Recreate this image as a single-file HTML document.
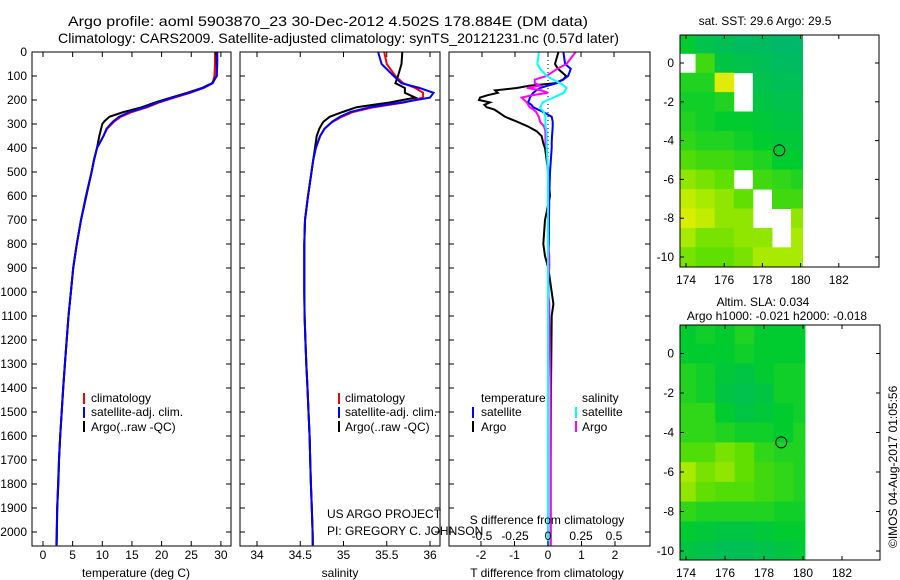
<!DOCTYPE html>
<html><head><meta charset="utf-8"><style>
html,body{margin:0;padding:0;background:#fff;}
svg{display:block;font-family:"Liberation Sans",sans-serif;}
text{fill:#000;}
</style></head><body>
<svg id="fig" width="900" height="580" viewBox="0 0 900 580" xmlns="http://www.w3.org/2000/svg">
<text x="68" y="26" font-size="14" textLength="520" lengthAdjust="spacingAndGlyphs">Argo profile: aoml 5903870_23 30-Dec-2012 4.502S 178.884E (DM data)</text>
<text x="58" y="43" font-size="14" textLength="561" lengthAdjust="spacingAndGlyphs">Climatology: CARS2009. Satellite-adjusted climatology: synTS_20121231.nc (0.57d later)</text>
<text x="765" y="25" font-size="12" text-anchor="middle">sat. SST: 29.6  Argo: 29.5</text>
<text x="763" y="306" font-size="12" text-anchor="middle">Altim. SLA: 0.034</text>
<text x="777" y="320" font-size="12" text-anchor="middle">Argo h1000: -0.021 h2000: -0.018</text>
<text transform="translate(897,548) rotate(-90)" font-size="12">©IMOS 04-Aug-2017 01:05:56</text>
<g id="plots"></g>
<rect x="32" y="52" width="199" height="494" fill="none" stroke="#000"/>
<rect x="240" y="52" width="200" height="494" fill="none" stroke="#000"/>
<rect x="449" y="52" width="201" height="494" fill="none" stroke="#000"/>
<text x="136" y="577" font-size="12" text-anchor="middle">temperature (deg C)</text>
<text x="340" y="577" font-size="12" text-anchor="middle">salinity</text>
<text x="547" y="577" font-size="12" text-anchor="middle">T difference from climatology</text>
<text x="547" y="524" font-size="12" text-anchor="middle">S difference from climatology</text>
<g font-size="12">
<rect x="83" y="393" width="2" height="11" fill="#f00"/><text x="91" y="402">climatology</text>
<rect x="83" y="407" width="2" height="11" fill="#00f"/><text x="91" y="416">satellite-adj. clim.</text>
<rect x="83" y="421" width="2" height="11" fill="#000"/><text x="91" y="431">Argo(..raw -QC)</text>
</g>
<g font-size="12">
<rect x="338" y="393" width="2" height="11" fill="#f00"/><text x="345" y="402">climatology</text>
<rect x="338" y="407" width="2" height="11" fill="#00f"/><text x="345" y="416">satellite-adj. clim.</text>
<rect x="338" y="421" width="2" height="11" fill="#000"/><text x="345" y="431">Argo(..raw -QC)</text>
</g>
<g font-size="12">
<text x="481" y="402">temperature</text>
<text x="582" y="402">salinity</text>
<rect x="472" y="407" width="2" height="11" fill="#00f"/><text x="481" y="416">satellite</text>
<rect x="472" y="421" width="2" height="11" fill="#000"/><text x="481" y="431">Argo</text>
<rect x="575" y="407" width="2" height="11" fill="#0ff"/><text x="582" y="416">satellite</text>
<rect x="575" y="421" width="2" height="11" fill="#f0f"/><text x="582" y="431">Argo</text>
</g>
<text x="327" y="518" font-size="12">US ARGO PROJECT</text>
<text x="327" y="535" font-size="12">PI: GREGORY C. JOHNSON</text>
</svg>
<script>
const pres = [0,50,100,130,150,170,190,210,230,250,270,290,300,320,350,400,450,500,600,700,800,900,1000,1100,1200,1300,1400,1500,1600,1700,1800,1900,2000,2055];
const tempSat = [29.4,29.4,29.3,28.6,27.0,24.6,21.9,19.3,17.3,14.6,12.8,11.8,11.4,10.7,10.2,9.1,8.6,8.2,7.25,6.4,5.7,5.1,4.7,4.3,4.0,3.7,3.4,3.15,2.9,2.7,2.55,2.4,2.35,2.3];
const tempClim = [29.0,29.0,28.9,28.6,27.1,24.8,22.2,19.6,17.6,15.0,13.1,12.0,11.6,10.8,10.2,9.1,8.6,8.2,7.25,6.4,5.7,5.1,4.7,4.3,4.0,3.7,3.4,3.15,2.9,2.7,2.55,2.4,2.3,2.25];
const tempArgo = [29.2,29.3,29.3,28.5,26.8,24.3,21.6,18.9,16.7,13.6,11.2,10.3,10.0,9.8,9.5,9.1,8.6,8.2,7.3,6.4,5.7,5.1,4.7,4.3,4.0,3.7,3.4,3.15,2.9,2.7,2.6,2.4,2.35,2.3];
const salSat = [35.40,35.44,35.58,35.67,35.88,36.04,36.00,35.68,35.31,35.08,34.96,34.87,34.84,34.78,34.73,34.68,34.65,34.63,34.59,34.555,34.547,34.547,34.547,34.55,34.56,34.57,34.584,34.595,34.608,34.615,34.623,34.633,34.643,34.645];
const salClim = [35.47,35.50,35.60,35.69,35.83,35.92,35.92,35.71,35.35,35.11,34.98,34.88,34.84,34.78,34.73,34.68,34.65,34.63,34.59,34.555,34.547,34.547,34.547,34.55,34.56,34.57,34.584,34.595,34.608,34.615,34.623,34.633,34.643,34.645];
const salArgo = [35.68,35.67,35.63,35.60,35.71,35.71,35.83,35.54,35.15,34.99,34.84,34.77,34.75,34.72,34.69,34.67,34.65,34.63,34.59,34.555,34.547,34.547,34.547,34.55,34.56,34.57,34.584,34.595,34.608,34.615,34.623,34.633,34.643,34.645];
const diffPres = [0,50,70,100,115,130,140,150,160,170,180,190,200,210,220,230,240,250,270,290,310,330,350,380,400,500,600,700,800,850,900,950,1000,1050,1100,1400,1700,2000,2055];
const dTargo = [0.31,0.21,0.30,0.54,0.45,0.21,-0.54,-0.93,-1.58,-1.5,-1.8,-2.03,-2.06,-1.73,-1.9,-1.83,-1.6,-1.49,-1.28,-0.93,-0.6,-0.34,-0.19,-0.14,-0.09,0.01,0.06,-0.09,-0.14,-0.09,0.01,0.06,0.11,0.16,0.11,0.09,0.08,0.08,0.08];
const dTsat = [0.46,0.51,0.68,0.6,0.45,0.26,0.0,-0.24,-0.35,-0.44,-0.5,-0.54,-0.56,-0.6,-0.5,-0.44,-0.3,-0.14,0.11,0.14,0.14,0.13,0.12,0.11,0.11,0.06,0.04,0.03,0.02,0.02,0.01,0.01,0.01,0.01,0.0,0.0,0.0,0.0,0.0];
const dSargo = [0.21,0.14,0.07,-0.01,-0.10,-0.10,-0.06,-0.16,-0.05,0.0,-0.12,-0.2,-0.18,-0.16,-0.15,-0.14,-0.11,-0.09,-0.07,-0.06,-0.03,-0.02,-0.02,-0.02,-0.01,0.0,0.0,0.0,0.0,0.01,0.01,0.0,0.0,0.01,0.01,0.02,0.02,0.02,0.02];
const dSsat = [-0.07,-0.08,-0.06,-0.01,0.04,0.09,0.12,0.14,0.13,0.12,0.08,0.04,0.0,-0.04,-0.05,-0.06,-0.05,-0.03,-0.02,-0.02,-0.02,-0.01,-0.01,-0.01,-0.01,0.0,0.0,0.0,0.0,0.0,0.0,0.0,0.0,0.0,0.0,0.0,0.0,0.0,0.0];
const depthTicks = [0,100,200,300,400,500,600,700,800,900,1000,1100,1200,1300,1400,1500,1600,1700,1800,1900,2000];
const tempTicks = [0,5,10,15,20,25,30];
const salTicks = [34,34.5,35,35.5,36];
const salTickLabels = ["34","34.5","35","35.5","36"];
const dTTicks = [-2,-1,0,1,2];
const dSTicks = [-0.5,-0.25,0,0.25,0.5];
const dSTickLabels = ["-0.5","-0.25","0","0.25","0.5"];
const mapLons = [174,175,176,177,178,179,180];
const mapLats = [1,0,-1,-2,-3,-4,-5,-6,-7,-8,-9,-10];
const sstGrid = [
[0.3,0.15,0.1,0.05,0.05,0.0,0.0],
[null,0.5,0.2,0.15,0.1,0.05,0.05],
[0.4,0.4,0.9,null,0.15,0.1,0.1],
[0.35,0.35,0.4,null,0.2,0.15,0.15],
[0.4,0.35,0.3,0.3,0.25,0.2,0.2],
[0.45,0.4,0.4,0.35,0.3,0.25,0.25],
[0.55,0.5,0.5,0.45,0.4,0.3,0.3],
[0.7,0.65,0.6,null,0.5,0.45,0.4],
[0.8,0.75,0.7,0.6,null,0.5,0.5],
[0.85,0.8,0.7,0.7,null,null,0.7],
[0.75,0.65,0.65,0.7,0.7,null,0.75],
[0.65,0.6,0.6,0.65,0.75,0.75,0.75]];
const slaGrid = [
[0.3,0.35,0.3,0.4,0.3,0.3,0.3],
[0.3,0.3,0.3,0.35,0.3,0.3,0.3],
[0.4,0.35,0.25,0.2,0.3,0.35,0.35],
[0.4,0.35,0.2,0.15,0.2,0.35,0.35],
[0.45,0.45,0.3,0.2,0.25,0.3,0.35],
[0.45,0.45,0.4,0.35,0.35,0.3,0.4],
[0.55,0.55,0.65,0.6,0.45,0.4,0.4],
[0.75,0.65,0.7,0.6,0.5,0.45,0.4],
[0.7,0.6,0.55,0.55,0.5,0.45,0.4],
[0.45,0.4,0.4,0.4,0.4,0.35,0.35],
[0.3,0.25,0.2,0.2,0.25,0.3,0.3],
[0.2,0.15,0.1,0.1,0.15,0.2,0.25]];
const floatLon = [178.884];
const floatLat = [-4.502];
const mapLonTicks = [174,176,178,180,182];
const mapLatTicks = [0,-2,-4,-6,-8,-10];

const NS = "http://www.w3.org/2000/svg";
const G = document.getElementById("plots");
function mk(tag, attrs) { const e = document.createElementNS(NS, tag); for (const k in attrs) e.setAttribute(k, attrs[k]); G.appendChild(e); return e; }
const yP = p => 52 + p * 0.24;
const xT = t => 43 + t * 5.93;
const xS = s => 257 + (s - 34) * 86.5;
const xDT = d => 548 + d * 33.5;
const xDS = d => 548 + d * 132;

function profile(xs, fx, color, name, presArr) {
  const pts = xs.map((v, i) => fx(v).toFixed(1) + "," + yP(presArr[i]).toFixed(1)).join(" ");
  const e = mk("polyline", {points: pts, fill: "none", stroke: color, "stroke-width": 2, "stroke-linejoin": "miter"});
  
  
}
const zl = mk("line", {x1: 548, y1: 52, x2: 548, y2: 546, stroke: "#000", "stroke-width": 1, "stroke-dasharray": "1,3"});



profile(tempClim, xT, "#f00", "temperature-climatology-line", pres);
profile(tempArgo, xT, "#000", "temperature-argo-line", pres);
profile(tempSat, xT, "#00f", "temperature-satellite-line", pres);
profile(salClim, xS, "#f00", "salinity-climatology-line", pres);
profile(salArgo, xS, "#000", "salinity-argo-line", pres);
profile(salSat, xS, "#00f", "salinity-satellite-line", pres);
profile(dTargo, xDT, "#000", "t-diff-argo-line", diffPres);
profile(dTsat, xDT, "#00f", "t-diff-satellite-line", diffPres);
profile(dSargo, xDS, "#f0f", "s-diff-argo-line", diffPres);
profile(dSsat, xDS, "#0ff", "s-diff-satellite-line", diffPres);

function label(x, y, txt, anchor, size, name) {
  const e = mk("text", {x: x, y: y, "font-size": size || 12, "text-anchor": anchor || "middle"});
  e.textContent = txt;
  
  
}
function tick(x1, y1, x2, y2, name) {
  const e = mk("line", {x1: x1, y1: y1, x2: x2, y2: y2, stroke: "#000", "stroke-width": 1});
  
  
}
const panels = [[32,231],[240,440],[449,650]];
depthTicks.forEach(p => {
  const y = yP(p);
  label(27, y + 4, String(p), "end", 12, "depth-tick-label");
  panels.forEach(([a, b]) => { tick(a, y, a + 5, y, "depth-tick"); tick(b - 5, y, b, y, "depth-tick"); });
});
tempTicks.forEach(t => { const x = xT(t); tick(x, 52, x, 57, "temp-tick"); tick(x, 541, x, 546, "temp-tick"); label(x, 559, String(t), "middle", 12, "temp-tick-label"); });
salTicks.forEach((s, i) => { const x = xS(s); tick(x, 52, x, 57, "sal-tick"); tick(x, 541, x, 546, "sal-tick"); label(x, 559, salTickLabels[i], "middle", 12, "sal-tick-label"); });
dTTicks.forEach(d => { const x = xDT(d); tick(x, 541, x, 546, "t-diff-tick"); label(x, 559, String(d), "middle", 12, "t-diff-tick-label"); });
dSTicks.forEach((d, i) => { const x = xDS(d); tick(x, 52, x, 57, "s-diff-tick"); label(x, 540, dSTickLabels[i], "middle", 12, "s-diff-tick-label"); });

function colorOf(v) {
  const stops = [[0, [0,184,104]], [0.3, [0,204,48]], [0.6, [96,224,0]], [0.85, [216,240,0]], [1, [240,224,32]]];
  for (let i = 1; i < stops.length; i++) {
    if (v <= stops[i][0]) {
      const [a, ca] = stops[i-1], [b, cb] = stops[i], f = (v - a) / (b - a);
      return "rgb(" + ca.map((c, k) => Math.round(c + (cb[k] - c) * f)).join(",") + ")";
    }
  }
  return "rgb(240,224,32)";
}
function drawMap(grid, box, lonX, latY, name) {
  const fr = mk("rect", {x: box[0], y: box[1], width: box[2] - box[0], height: box[3] - box[1], fill: "#fff"});
  
  
  const dataLeft = box[0], dataRight = lonX(180.1);
  mapLats.forEach((la, r) => {
    mapLons.forEach((lo, c) => {
      const v = grid[r][c];
      if (v === null) return;
      const x0 = Math.max(dataLeft, lonX(lo - 0.5)), x1 = Math.min(dataRight, lonX(lo + 0.5));
      const y0 = Math.max(box[1], latY(la + 0.5)), y1 = Math.min(box[3], latY(la - 0.5));
      const e = mk("rect", {x: x0, y: y0, width: x1 - x0 + 0.5, height: y1 - y0 + 0.5, fill: colorOf(v)});
      
      
    });
  });
  floatLon.forEach((lo, i) => {
    const e = mk("circle", {cx: lonX(lo), cy: latY(floatLat[i]), r: 5.5, fill: "none", stroke: "#000", "stroke-width": 1});
    
    
  });
  const b = mk("rect", {x: box[0], y: box[1], width: box[2] - box[0], height: box[3] - box[1], fill: "none", stroke: "#000"});
  
  
  mapLonTicks.forEach(lo => { const x = lonX(lo); tick(x, box[1], x, box[1] + 4, "lon-tick"); tick(x, box[3] - 4, x, box[3], "lon-tick"); label(x, box[3] + 17, String(lo), "middle", 12, "lon-tick-label"); });
  mapLatTicks.forEach(la => { const y = latY(la); tick(box[0], y, box[0] + 4, y, "lat-tick"); tick(box[2] - 4, y, box[2], y, "lat-tick"); label(box[0] - 6, y + 4, String(la), "end", 12, "lat-tick-label"); });
}
drawMap(sstGrid, [680, 35, 879, 267], l => 686 + (l - 174) * 19.1, la => 63 - la * 19.4, "sst-map");
drawMap(slaGrid, [680, 325, 880, 560], l => 686 + (l - 174) * 19.5, la => 353.5 - la * 19.75, "sla-map");
</script>
</body></html>
